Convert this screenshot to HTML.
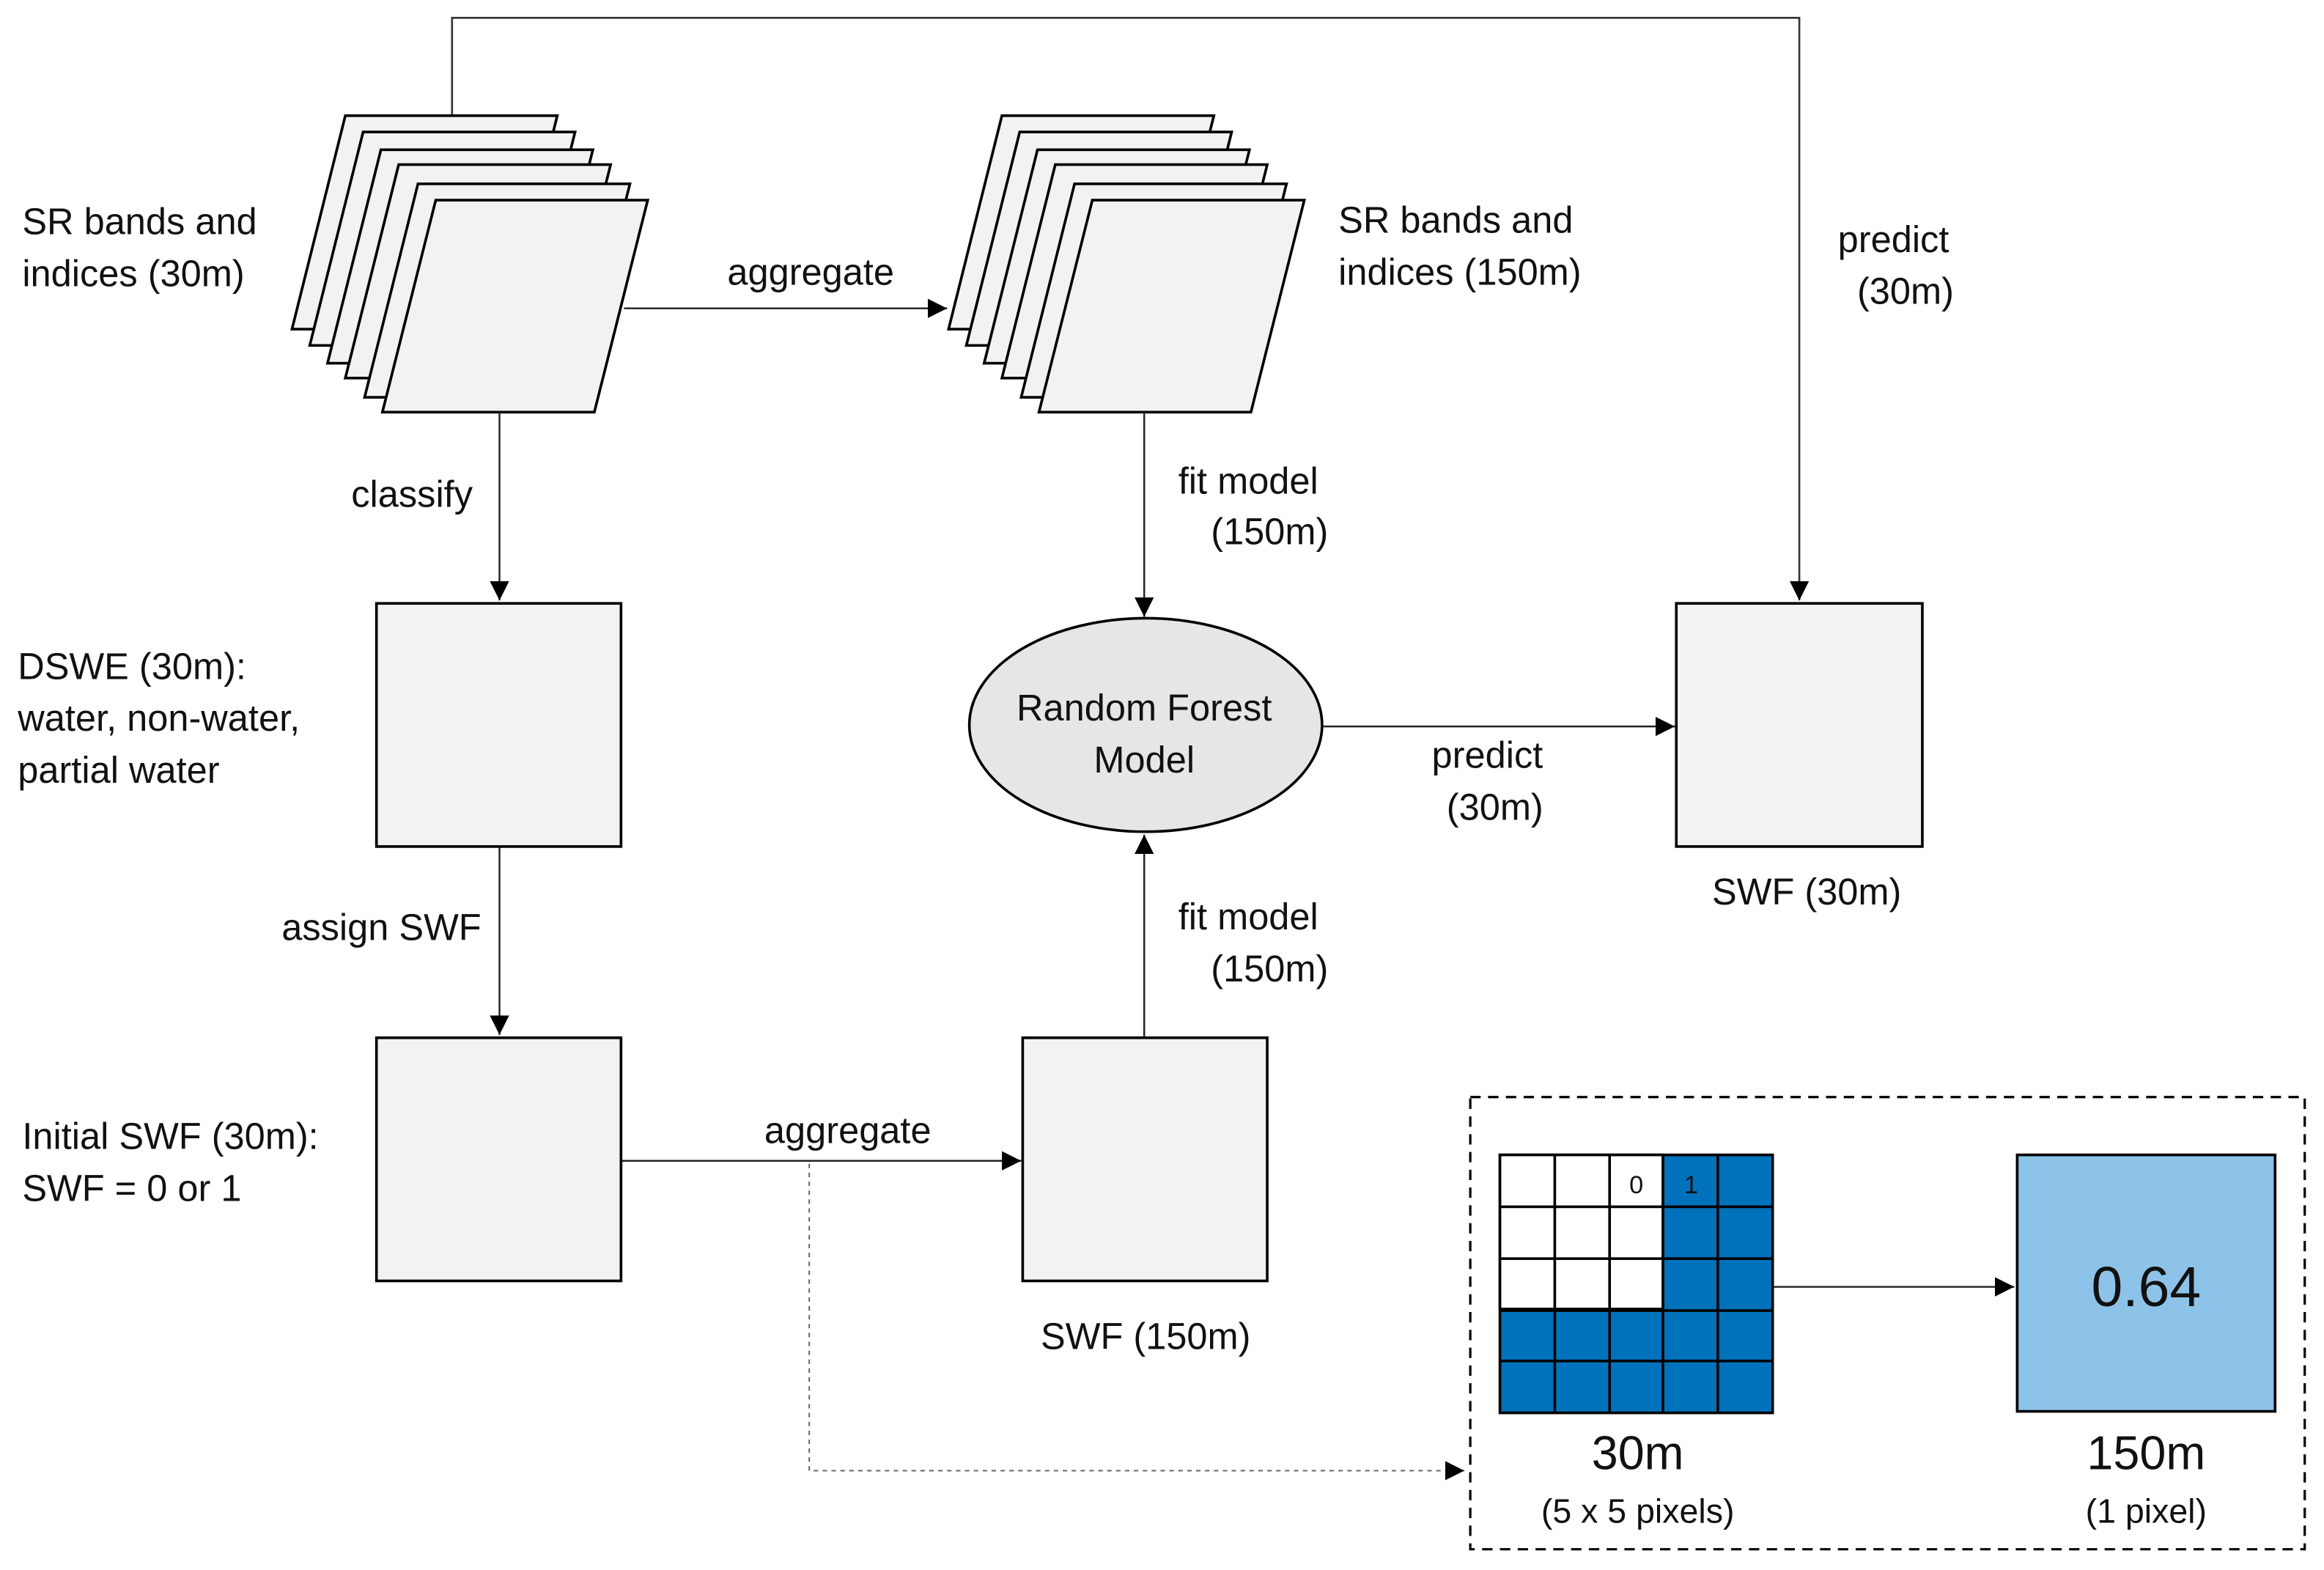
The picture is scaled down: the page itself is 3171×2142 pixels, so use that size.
<!DOCTYPE html>
<html><head><meta charset="utf-8"><style>
html,body{margin:0;padding:0;background:#fff;}
svg{display:block;}
text{font-family:"Liberation Sans",sans-serif;fill:#111;}
</style></head><body>
<svg width="3171" height="2142" viewBox="0 0 1568 1059" preserveAspectRatio="none" xmlns="http://www.w3.org/2000/svg">
<defs>
<marker id="a" viewBox="0 0 10 10" refX="10" refY="5" markerWidth="13" markerHeight="13" markerUnits="userSpaceOnUse" orient="auto"><path d="M0,0 L10,5 L0,10 z" fill="#000"/></marker>
</defs>
<rect width="1568" height="1059" fill="#fff"/>
<path d="M305,78 V12 H1214 V405" fill="none" stroke="#333" stroke-width="1.3" marker-end="url(#a)"/>
<g fill="#f2f2f2" stroke="#000" stroke-width="1.8">
<path d="M233,78 h143 l-36,144 h-143 z"/>
<path d="M245,89 h143 l-36,144 h-143 z"/>
<path d="M257,101 h143 l-36,144 h-143 z"/>
<path d="M269,111 h143 l-36,144 h-143 z"/>
<path d="M282,124 h143 l-36,144 h-143 z"/>
<path d="M294,135 h143 l-36,143 h-143 z"/>
<path d="M676,78 h143 l-36,144 h-143 z"/>
<path d="M688,89 h143 l-36,144 h-143 z"/>
<path d="M700,101 h143 l-36,144 h-143 z"/>
<path d="M712,111 h143 l-36,144 h-143 z"/>
<path d="M725,124 h143 l-36,144 h-143 z"/>
<path d="M737,135 h143 l-36,143 h-143 z"/>
</g>
<g stroke="#222" stroke-width="1.2" fill="none">
<path d="M421,208 H639" marker-end="url(#a)"/>
<path d="M337,278 V405" marker-end="url(#a)"/>
<path d="M772,278 V416" marker-end="url(#a)"/>
<path d="M337,571 V698" marker-end="url(#a)"/>
<path d="M419,783 H689" marker-end="url(#a)"/>
<path d="M772,700 V563" marker-end="url(#a)"/>
<path d="M892,490 H1130" marker-end="url(#a)"/>
<path d="M1196,868 H1359" marker-end="url(#a)"/>
</g>
<path d="M546,785 V992 H988" fill="none" stroke="#666" stroke-width="1" stroke-dasharray="3,3" marker-end="url(#a)"/>
<g fill="#f2f2f2" stroke="#000" stroke-width="1.8">
<rect x="254" y="407" width="165" height="164"/>
<rect x="254" y="700" width="165" height="164"/>
<rect x="690" y="700" width="165" height="164"/>
<rect x="1131" y="407" width="166" height="164"/>
</g>
<ellipse cx="773" cy="489" rx="119" ry="72" fill="#e6e6e6" stroke="#000" stroke-width="1.8"/>
<rect x="992" y="740" width="563" height="305" fill="none" stroke="#000" stroke-width="1.6" stroke-dasharray="7,5"/>
<g stroke="#000" stroke-width="1.8">
<rect x="1012" y="779" width="184" height="174" fill="#0072bb"/>
<rect x="1012" y="779" width="110" height="104" fill="#fff"/>
<path d="M1049,779 V953 M1086,779 V953 M1122,779 V953 M1159,779 V953 M1012,814 H1196 M1012,849 H1196 M1012,884 H1196 M1012,918 H1196" fill="none"/>
</g>
<text x="1104" y="805" font-size="17" text-anchor="middle">0</text>
<text x="1141" y="805" font-size="17" text-anchor="middle">1</text>
<rect x="1361" y="779" width="174" height="173" fill="#8dc3e8" stroke="#000" stroke-width="1.8"/>
<text x="1448" y="881" font-size="38" text-anchor="middle">0.64</text>
<text x="1105" y="991" font-size="32" text-anchor="middle">30m</text>
<text x="1105" y="1027" font-size="23" text-anchor="middle">(5 x 5 pixels)</text>
<text x="1448" y="991" font-size="32" text-anchor="middle">150m</text>
<text x="1448" y="1027" font-size="23" text-anchor="middle">(1 pixel)</text>
<g font-size="25">
<text x="15" y="158">SR bands and</text>
<text x="15" y="193">indices (30m)</text>
<text x="903" y="157">SR bands and</text>
<text x="903" y="192">indices (150m)</text>
<text x="1240" y="170">predict</text>
<text x="1253" y="205">(30m)</text>
<text x="547" y="192" text-anchor="middle">aggregate</text>
<text x="237" y="342">classify</text>
<text x="795" y="333">fit model</text>
<text x="817" y="367">(150m)</text>
<text x="12" y="458">DSWE (30m):</text>
<text x="12" y="493">water, non-water,</text>
<text x="12" y="528">partial water</text>
<text x="772" y="486" text-anchor="middle">Random Forest</text>
<text x="772" y="521" text-anchor="middle">Model</text>
<text x="966" y="518">predict</text>
<text x="976" y="553">(30m)</text>
<text x="1219" y="610" text-anchor="middle">SWF (30m)</text>
<text x="190" y="634">assign SWF</text>
<text x="795" y="627">fit model</text>
<text x="817" y="662">(150m)</text>
<text x="15" y="775">Initial SWF  (30m):</text>
<text x="15" y="810">SWF = 0 or 1</text>
<text x="572" y="771" text-anchor="middle">aggregate</text>
<text x="773" y="910" text-anchor="middle">SWF (150m)</text>
</g>
</svg>
</body></html>
